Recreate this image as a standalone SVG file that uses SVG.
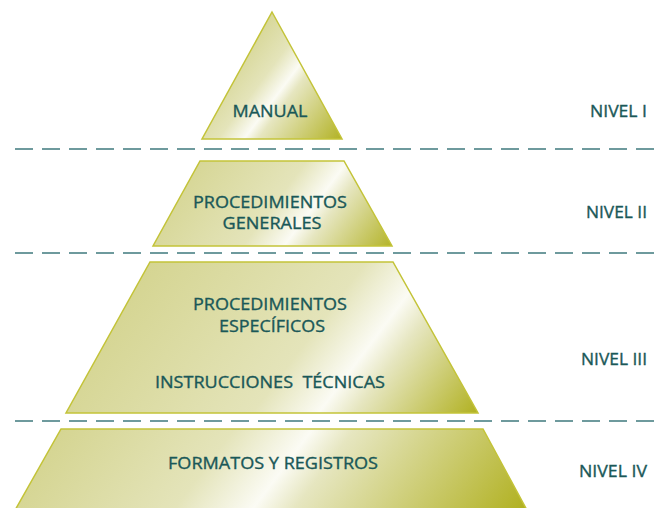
<svg xmlns="http://www.w3.org/2000/svg" width="655" height="508" viewBox="0 0 655 508">
<style>
.shape{stroke:#c3c338;stroke-width:1.5;stroke-linejoin:miter}
.lbl{font-family:"Open Sans","Noto Sans",sans-serif;font-size:17px;fill:#1a5858;stroke:#1a5858;stroke-width:0.35;text-anchor:middle;white-space:pre}
.lvl{font-family:"Open Sans","Noto Sans",sans-serif;font-size:17px;fill:#1a5858;stroke:#1a5858;stroke-width:0.35;text-anchor:end}
.dash{stroke:#6e9a9d;stroke-width:2;stroke-dasharray:18 9;fill:none}
</style>
<defs>
<linearGradient id="g1" gradientUnits="userSpaceOnUse" x1="234" y1="52" x2="346" y2="136">
<stop offset="0" stop-color="#d5d592"/><stop offset="0.28" stop-color="#e4e4ba"/><stop offset="0.43" stop-color="#fbfbf4"/><stop offset="0.51" stop-color="#e6e6c0"/><stop offset="1" stop-color="#b1b121"/>
</linearGradient>
<linearGradient id="g2" gradientUnits="userSpaceOnUse" x1="211" y1="127" x2="387" y2="259">
<stop offset="0" stop-color="#d5d592"/><stop offset="0.44" stop-color="#e4e4ba"/><stop offset="0.59" stop-color="#fbfbf4"/><stop offset="0.67" stop-color="#e6e6c0"/><stop offset="1" stop-color="#b1b121"/>
</linearGradient>
<linearGradient id="g3" gradientUnits="userSpaceOnUse" x1="185" y1="215" x2="467" y2="427">
<stop offset="0" stop-color="#d5d592"/><stop offset="0.49" stop-color="#e4e4ba"/><stop offset="0.64" stop-color="#fbfbf4"/><stop offset="0.72" stop-color="#e6e6c0"/><stop offset="1" stop-color="#b1b121"/>
</linearGradient>
<linearGradient id="g4" gradientUnits="userSpaceOnUse" x1="123" y1="347" x2="458" y2="598">
<stop offset="0" stop-color="#d5d592"/><stop offset="0.33" stop-color="#e4e4ba"/><stop offset="0.48" stop-color="#fbfbf4"/><stop offset="0.56" stop-color="#e6e6c0"/><stop offset="1" stop-color="#b1b121"/>
</linearGradient>
</defs>

<g id="separators">
<line class="dash" x1="15" y1="149" x2="655" y2="149"/>
<line class="dash" x1="15" y1="253" x2="655" y2="253"/>
<line class="dash" x1="15" y1="421" x2="655" y2="421"/>
</g>

<g id="nivel1">
<polygon class="shape" fill="url(#g1)" points="272,12 342,139 202,139"/>
<text class="lbl" x="270" y="117" textLength="75" lengthAdjust="spacingAndGlyphs">MANUAL</text>
<text class="lvl" x="647" y="117" textLength="57" lengthAdjust="spacingAndGlyphs">NIVEL I</text>
</g>

<g id="nivel2">
<polygon class="shape" fill="url(#g2)" points="200,161 344,161 392,246 153,246"/>
<text class="lbl" x="270" y="208" textLength="154" lengthAdjust="spacingAndGlyphs">PROCEDIMIENTOS</text>
<text class="lbl" x="272" y="229" textLength="99" lengthAdjust="spacingAndGlyphs">GENERALES</text>
<text class="lvl" x="647" y="218" textLength="61" lengthAdjust="spacingAndGlyphs">NIVEL II</text>
</g>

<g id="nivel3">
<polygon class="shape" fill="url(#g3)" points="150,262 393,262 478,413 66,413"/>
<text class="lbl" x="270" y="310" textLength="154" lengthAdjust="spacingAndGlyphs">PROCEDIMIENTOS</text>
<text class="lbl" x="272" y="332" textLength="106" lengthAdjust="spacingAndGlyphs">ESPECÍFICOS</text>
<text class="lbl" x="270" y="388" textLength="230" lengthAdjust="spacingAndGlyphs">INSTRUCCIONES  TÉCNICAS</text>
<text class="lvl" x="647" y="365" textLength="66" lengthAdjust="spacingAndGlyphs">NIVEL III</text>
</g>

<g id="nivel4">
<polygon class="shape" fill="url(#g4)" points="61,429 483,429 528,512 14,512"/>
<text class="lbl" x="273" y="469" textLength="210" lengthAdjust="spacingAndGlyphs">FORMATOS Y REGISTROS</text>
<text class="lvl" x="647" y="477" textLength="68" lengthAdjust="spacingAndGlyphs">NIVEL IV</text>
</g>
</svg>
